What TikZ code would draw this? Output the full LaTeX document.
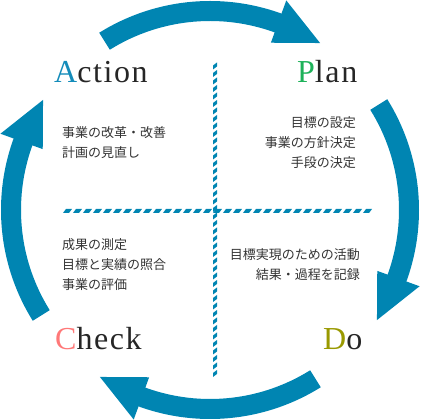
\documentclass[tikz,border=0pt]{standalone}
\usepackage{fontspec}
\newfontfamily\jpfont{Noto Sans CJK JP}
\newfontfamily\pdcafont[LetterSpace=5]{Liberation Serif}
\definecolor{cycleblue}{RGB}{0,133,178}
\definecolor{actcol}{RGB}{20,140,186}
\definecolor{plancol}{RGB}{30,178,90}
\definecolor{chkcol}{RGB}{255,120,120}
\definecolor{docol}{RGB}{153,153,0}
\tikzset{
  pdca/.style={font=\pdcafont\fontsize{32}{32}\selectfont, text=black!85, inner sep=0pt},
  memo/.style={font=\jpfont\fontsize{13}{20}\selectfont, text=black!80, inner sep=0pt},
}
\begin{document}
\begin{tikzpicture}[x=1pt, y=1pt]
    \useasboundingbox (0,0) rectangle (426,420);

    % four arrows round the cycle
    \foreach \r in {0,-90,-180,-270} {
        \begin{scope}[shift={(210,210)}, rotate=\r]
            \fill[cycleblue] (122:209) arc[start angle=122, end angle=68, radius=209] -- (68:189) arc[start angle=68, end angle=122, radius=189] -- cycle;
            \fill[cycleblue] (70:223) -- (56.6:200) -- (70:178) -- cycle;
        \end{scope}
    }

    % hatched cross
    \foreach \x in {63,73,...,363}
        \fill[cycleblue] (\x,207) -- (\x+6,207) -- (\x+9,211) -- (\x+3,211) -- cycle;
    \foreach \y in {43,50.5,...,353}
        \fill[cycleblue] (213,\y) -- (217,\y+3) -- (217,\y+7) -- (213,\y+4) -- cycle;

    % quadrant titles
    \node[pdca, anchor=base west] (action) at (54,337) {\textcolor{actcol}{A}ction};
    \node[pdca, anchor=base west] (plan) at (297,337) {\textcolor{plancol}{P}lan};
    \node[pdca, anchor=base west] (check) at (55,70) {\textcolor{chkcol}{C}heck};
    \node[pdca, anchor=base west] (do) at (323,70) {\textcolor{docol}{D}o};

    % quadrant notes (base = last line)
    \node[memo, anchor=base west, align=left] (actnote) at (62,262) {事業の改革・改善\\計画の見直し};
    \node[memo, anchor=base east, align=right] (plannote) at (356,252) {目標の設定\\事業の方針決定\\手段の決定};
    \node[memo, anchor=base west, align=left] (chknote) at (62,130) {成果の測定\\目標と実績の照合\\事業の評価};
    \node[memo, anchor=base east, align=right] (donote) at (360,140) {目標実現のための活動\\結果・過程を記録};
\end{tikzpicture}
\end{document}
